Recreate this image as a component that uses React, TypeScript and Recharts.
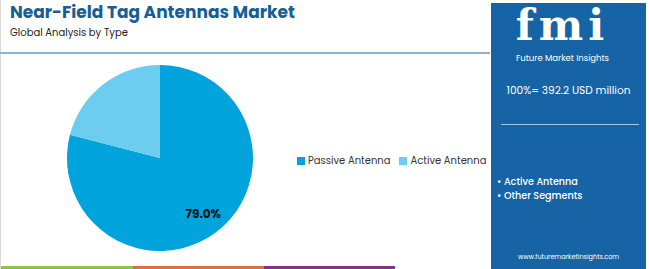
import React from 'react';
import { PieChart, Pie, Cell, Legend } from 'recharts';

const segments = ['Passive Antenna', 'Active Antenna'];
const shares = [79.0, 21.0];
const colors = ['#00a3db', '#6ccdf1'];
const panelSegments = ['Active Antenna', 'Other Segments'];
const totalLabel = '100%= 392.2 USD million';

const data = segments.map((name, i) => ({ name, value: shares[i] }));

const font = 'Poppins, "Open Sans", Inter, sans-serif';

const renderLabel = (props: any) => {
  const { cx, cy, midAngle, outerRadius, index, value } = props;
  if (index !== 0) return null;
  const RAD = Math.PI / 180;
  const r = outerRadius * 0.76;
  const x = cx + r * Math.cos(-midAngle * RAD);
  const y = cy + r * Math.sin(-midAngle * RAD);
  return (
    <text x={x} y={y} fill="#111" fontSize={12} fontWeight={700} textAnchor="middle" dominantBaseline="central" fontFamily={font}>
      {value.toFixed(1)}%
    </text>
  );
};

const renderLegend = () => (
  <div style={{ display: 'flex', gap: 9, fontSize: 10, color: '#333', whiteSpace: 'nowrap', fontFamily: font }}>
    {segments.map((s, i) => (
      <div key={s} style={{ display: 'flex', alignItems: 'center', gap: 3 }}>
        <span style={{ display: 'inline-block', width: 8, height: 8, background: colors[i] }} />
        <span>{s}</span>
      </div>
    ))}
  </div>
);

const App: React.FC = () => {
  return (
    <div style={{ position: 'fixed', left: 0, top: 0, width: 650, height: 269, background: '#fff', fontFamily: font, overflow: 'hidden' }}>
      <div style={{ position: 'absolute', left: 0, top: 0, width: 1, height: 269, background: '#d8d8d8' }} />
      <div style={{ position: 'absolute', left: 0, top: 52, width: 490, height: 2, background: '#8fb3cf' }} />
      <div style={{ position: 'absolute', left: 10, top: 3, fontSize: 17, lineHeight: '18px', fontWeight: 700, color: '#175e95', whiteSpace: 'nowrap' }}>
        Near-Field Tag Antennas Market
      </div>
      <div style={{ position: 'absolute', left: 10, top: 27, fontSize: 10, lineHeight: '12px', color: '#222', whiteSpace: 'nowrap' }}>
        Global Analysis by Type
      </div>

      <div style={{ position: 'absolute', left: 0, top: 0 }}>
        <PieChart width={490} height={269} margin={{ top: 0, right: 0, bottom: 0, left: 0 }}>
          <Pie
            data={data}
            dataKey="value"
            nameKey="name"
            cx={160}
            cy={158}
            outerRadius={93}
            startAngle={90}
            endAngle={-270}
            stroke="none"
            label={renderLabel}
            labelLine={false}
            isAnimationActive={false}
          >
            {data.map((d, i) => (
              <Cell key={d.name} fill={colors[i]} />
            ))}
          </Pie>
          <Legend
            layout="vertical"
            verticalAlign="middle"
            align="right"
            content={renderLegend}
            wrapperStyle={{ left: 297, top: 153, right: 'auto', width: 195 }}
          />
        </PieChart>
      </div>

      <div style={{ position: 'absolute', left: 491, top: 3, width: 155, height: 266, background: '#1663a6' }}>
        <div style={{ position: 'absolute', left: -6, width: 155, top: 2, height: 42, textAlign: 'center', fontFamily: '"DejaVu Serif", serif', fontWeight: 700, fontSize: 42, lineHeight: '42px', color: '#fff', letterSpacing: 5 }}>
          fmi
        </div>
        <div style={{ position: 'absolute', left: -6, width: 155, top: 50, textAlign: 'center', fontSize: 8.5, lineHeight: '10px', color: '#fff' }}>
          Future Market Insights
        </div>
        <div style={{ position: 'absolute', left: 0, width: 155, top: 80, textAlign: 'center', fontSize: 10.6, color: '#fff' }}>
          {totalLabel}
        </div>
        <div style={{ position: 'absolute', left: 10, top: 121, width: 138, height: 1, background: '#9fc7e8' }} />
        <div style={{ position: 'absolute', left: 6, top: 172, fontSize: 9.6, fontWeight: 500, color: '#fff', lineHeight: '14px' }}>
          {panelSegments.map((s) => (
            <div key={s} style={{ height: 14 }}>• {s}</div>
          ))}
        </div>
        <div style={{ position: 'absolute', left: 0, width: 155, top: 249, textAlign: 'center', fontSize: 6.5, color: '#fff' }}>
          www.futuremarketinsights.com
        </div>
      </div>

      <div style={{ position: 'absolute', left: 1, top: 266, width: 132, height: 3, background: '#8cc63f' }} />
      <div style={{ position: 'absolute', left: 133, top: 266, width: 131, height: 3, background: '#e2703a' }} />
      <div style={{ position: 'absolute', left: 264, top: 266, width: 131, height: 3, background: '#8a2f8a' }} />
    </div>
  );
};

export default App;
